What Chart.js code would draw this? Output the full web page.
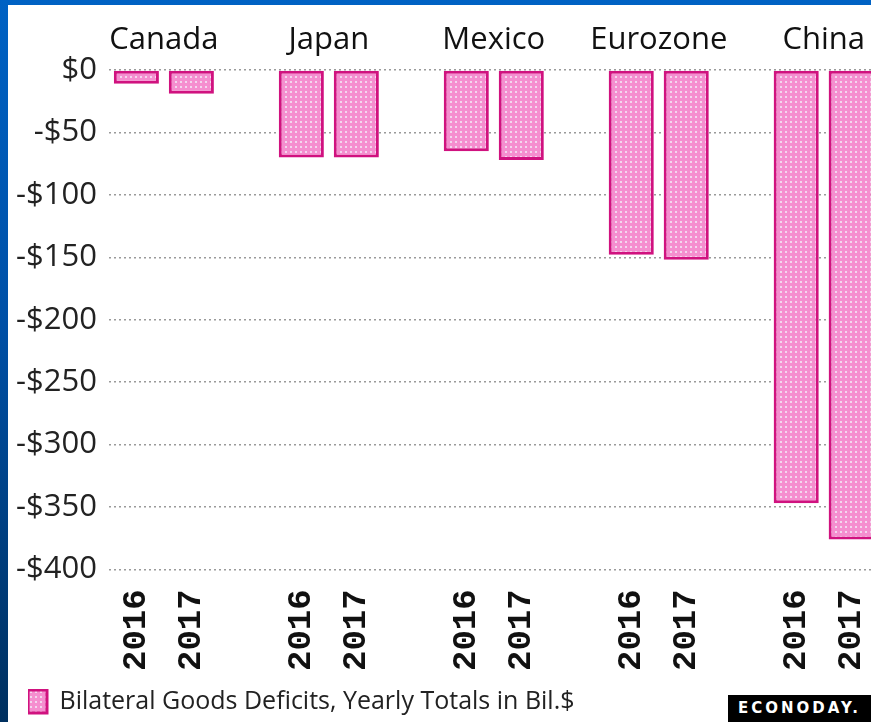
<!DOCTYPE html>
<html>
<head>
<meta charset="utf-8">
<script src="https://cdn.jsdelivr.net/npm/chart.js@4.4.1/dist/chart.umd.min.js"></script>
<style>
  html, body { margin: 0; padding: 0; }
  body {
    width: 871px; height: 722px; overflow: hidden; position: relative;
    background: linear-gradient(180deg, #0062c4 0%, #0050a6 45%, #00305f 100%);
  }
  .paper { position: absolute; left: 8px; top: 5px; width: 863px; height: 717px; background: #fff; overflow: hidden; }
  #chart { position: absolute; left: -4px; top: 0; }
  .logo {
    position: absolute; left: 720px; top: 690px; width: 151px; height: 27px;
    background: #000; color: #fff; font: bold 15px "DejaVu Sans", sans-serif;
    letter-spacing: 3px; line-height: 27px; padding-left: 10px; box-sizing: border-box;
  }
</style>
</head>
<body>
<div class="paper">
  <canvas id="chart" width="908" height="719"></canvas>
  <div class="logo">ECONODAY.</div>
</div>
<script>
const countries = ['Canada', 'Japan', 'Mexico', 'Eurozone', 'China'];
const years = ['2016', '2017'];
const deficits2016 = [-11, -70, -65, -148, -347];
const deficits2017 = [-19, -70, -72, -152, -376];
const yTicks = [0, -50, -100, -150, -200, -250, -300, -350, -400];

// 14 slots: 2 bars per country, one empty slot between groups
const labels = [];
const values = [];
countries.forEach((c, i) => {
    if (i > 0) { labels.push(''); values.push(null); }
    labels.push(years[0]); values.push(deficits2016[i]);
    labels.push(years[1]); values.push(deficits2017[i]);
});

// dotted pink fill
function dotPattern() {
    const p = document.createElement('canvas');
    p.width = 5; p.height = 5;
    const g = p.getContext('2d');
    g.fillStyle = '#f58ecf';
    g.fillRect(0, 0, 5, 5);
    g.fillStyle = '#f3d6ee';
    g.fillRect(1, 1, 2, 2);
    return g.createPattern(p, 'repeat');
}
const pinkFill = dotPattern();

// country names above each pair of bars
const countryLabels = {
    id: 'countryLabels',
    afterLayout(chart) {
        // push the legend a bit to the right, like the original
        chart.legend.left += 24;
        chart.legend.right += 24;
    },
    afterDraw(chart) {
        const meta = chart.getDatasetMeta(0);
        const ctx = chart.ctx;
        ctx.save();
        ctx.font = '31px "Open Sans"';
        ctx.fillStyle = '#111';
        ctx.textAlign = 'center';
        ctx.textBaseline = 'alphabetic';
        countries.forEach((c, i) => {
            const a = meta.data[i * 3], b = meta.data[i * 3 + 1];
            ctx.fillText(c, (a.x + b.x) / 2, 44);
        });
        ctx.restore();
    }
};

var ctx = document.getElementById('chart').getContext('2d');
var myChart = new Chart(ctx, {
    type: 'bar',
    data: {
        labels: labels,
        datasets: [{
            label: 'Bilateral Goods Deficits, Yearly Totals in Bil.$',
            data: values,
            backgroundColor: pinkFill,
            borderColor: '#d0127f',
            borderWidth: 3,
            borderSkipped: false,
            barPercentage: 0.82,
            categoryPercentage: 1
        }]
    },
    options: {
        responsive: false,
        animation: false,
        layout: { padding: { top: 65, right: 0, left: 0, bottom: 0 } },
        plugins: {
            tooltip: { enabled: false },
            legend: {
                position: 'bottom',
                align: 'start',
                labels: {
                    boxWidth: 19,
                    boxHeight: 23,
                    padding: 0,
                    color: '#222',
                    font: { family: 'Open Sans', size: 25 }
                }
            }
        },
        scales: {
            x: {
                grid: { display: false, drawTicks: false },
                border: { display: false },
                afterFit: scale => { scale.height -= 2; },
                ticks: {
                    autoSkip: false,
                    minRotation: 90,
                    maxRotation: 90,
                    padding: 20,
                    color: '#111',
                    font: { family: 'Liberation Mono', size: 34, weight: 'bold' }
                }
            },
            y: {
                min: -400,
                max: 0,
                afterBuildTicks: axis => { axis.ticks = yTicks.map(v => ({ value: v })); },
                grid: {
                    color: '#9a9a9a',
                    lineWidth: 1.5,
                    drawTicks: false
                },
                border: { display: false, dash: [2, 3] },
                ticks: {
                    padding: 12,
                    color: '#222',
                    font: { family: 'Open Sans', size: 31 },
                    callback: v => (v < 0 ? '-$' + (-v) : '$' + v)
                }
            }
        }
    },
    plugins: [countryLabels]
});
</script>
</body>
</html>
